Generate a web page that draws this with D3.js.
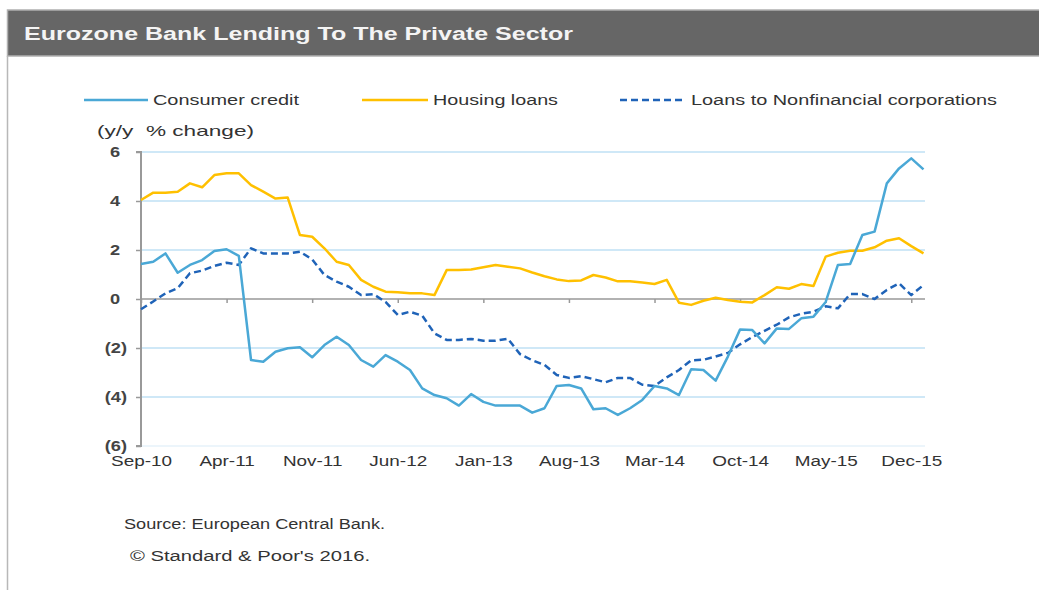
<!DOCTYPE html>
<html><head><meta charset="utf-8">
<script src="https://cdn.jsdelivr.net/npm/d3@7"></script>
<style>
body{margin:0;background:#fff;}
svg{display:block;font-family:Arial, "Liberation Sans", sans-serif;}
</style></head>
<body>
<svg id="c" width="1039" height="590"></svg>
<script>
const months = ["Sep-10","Oct-10","Nov-10","Dec-10","Jan-11","Feb-11","Mar-11","Apr-11","May-11","Jun-11","Jul-11","Aug-11","Sep-11","Oct-11","Nov-11","Dec-11",
"Jan-12","Feb-12","Mar-12","Apr-12","May-12","Jun-12","Jul-12","Aug-12","Sep-12","Oct-12","Nov-12","Dec-12",
"Jan-13","Feb-13","Mar-13","Apr-13","May-13","Jun-13","Jul-13","Aug-13","Sep-13","Oct-13","Nov-13","Dec-13",
"Jan-14","Feb-14","Mar-14","Apr-14","May-14","Jun-14","Jul-14","Aug-14","Sep-14","Oct-14","Nov-14","Dec-14",
"Jan-15","Feb-15","Mar-15","Apr-15","May-15","Jun-15","Jul-15","Aug-15","Sep-15","Oct-15","Nov-15","Dec-15","Jan-16"];
const consumerCredit = [1.43,1.52,1.86,1.07,1.39,1.59,1.96,2.03,1.76,-2.49,-2.56,-2.15,-2.01,-1.97,-2.38,-1.88,-1.54,-1.88,-2.49,-2.76,
-2.29,-2.56,-2.9,-3.65,-3.92,-4.05,-4.35,-3.88,-4.2,-4.35,-4.35,-4.35,-4.64,-4.46,-3.55,-3.51,-3.65,-4.5,-4.46,-4.73,-4.46,-4.12,-3.55,-3.65,
-3.92,-2.87,-2.9,-3.33,-2.35,-1.24,-1.27,-1.81,-1.2,-1.22,-0.79,-0.72,-0.12,1.39,1.43,2.61,2.75,4.72,5.33,5.74,5.29];
const housingLoans = [4.04,4.34,4.34,4.38,4.72,4.56,5.06,5.13,5.13,4.65,4.38,4.1,4.14,2.61,2.54,2.07,1.52,1.39,0.78,0.5,
0.3,0.28,0.23,0.23,0.16,1.18,1.18,1.2,1.3,1.39,1.32,1.25,1.08,0.93,0.8,0.73,0.76,0.98,0.88,0.72,0.72,0.67,0.61,0.78,
-0.15,-0.24,-0.07,0.05,-0.04,-0.11,-0.14,0.16,0.48,0.42,0.61,0.53,1.73,1.89,1.97,1.97,2.11,2.38,2.48,2.16,1.86];
const nfcLoans = [-0.42,-0.1,0.23,0.44,1.05,1.16,1.35,1.48,1.39,2.07,1.86,1.86,1.86,1.93,1.62,0.98,0.71,0.5,0.16,0.2,
-0.12,-0.65,-0.52,-0.68,-1.4,-1.67,-1.67,-1.63,-1.7,-1.7,-1.62,-2.25,-2.5,-2.69,-3.1,-3.22,-3.15,-3.27,-3.4,-3.22,-3.22,-3.5,-3.55,-3.2,
-2.9,-2.5,-2.48,-2.35,-2.2,-1.85,-1.55,-1.3,-1.05,-0.75,-0.6,-0.52,-0.3,-0.38,0.2,0.2,0.0,0.37,0.64,0.16,0.57];
const yTicks = [6,4,2,0,-2,-4,-6];
const xTickLabels = ["Sep-10","Apr-11","Nov-11","Jun-12","Jan-13","Aug-13","Mar-14","Oct-14","May-15","Dec-15"];

const STRETCH = 1.35;
function stretch(sel, f){
  sel.each(function(){
    const w = this.getComputedTextLength();
    d3.select(this).attr("textLength", w*(f||STRETCH)).attr("lengthAdjust","spacingAndGlyphs");
  });
  return sel;
}

const svg = d3.select("#c");
// frame
svg.append("rect").attr("x",7.5).attr("y",10).attr("width",1040).attr("height",46).attr("fill","#666666").attr("stroke","#b0b0b0").attr("stroke-width",1.5);
svg.append("line").attr("x1",7.5).attr("x2",7.5).attr("y1",56).attr("y2",590).attr("stroke","#b8b8b8").attr("stroke-width",1.5);
svg.append("text").attr("x",24).attr("y",40).attr("fill","#f4f4f4").attr("font-size",17.5).attr("font-weight","bold")
  .text("Eurozone Bank Lending To The Private Sector").attr("textLength",549).attr("lengthAdjust","spacingAndGlyphs");

const x = d3.scalePoint().domain(months).range([141, 923.5]);
const y = d3.scaleLinear().domain([-6,6]).range([446,152]);

// gridlines
svg.append("g").selectAll("line").data(yTicks.filter(d=>d!==0)).join("line")
  .attr("x1",141).attr("x2",925).attr("y1",d=>y(d)).attr("y2",d=>y(d))
  .attr("stroke",d=>d===-6?"#e6f2fa":"#bfe0f5").attr("stroke-width",1.5);

// y axis
const yAxis = d3.axisLeft(y).tickValues(yTicks).tickSize(5).tickPadding(9)
  .tickFormat(d=>d<0?"("+(-d)+")":String(d));
const gy = svg.append("g").attr("transform","translate(141,0)").call(yAxis);
gy.select(".domain").attr("stroke","#999").attr("stroke-width",2).attr("d","M-5,152H0V446H-5");
gy.selectAll(".tick line").attr("stroke","#999").attr("stroke-width",1.5);
gy.selectAll(".tick text").attr("fill","#444").attr("font-size",14).attr("font-weight","bold").attr("font-family","Arial, 'Liberation Sans', sans-serif")
  .attr("dx",d=>d>=0?-7:0);
stretch(gy.selectAll(".tick text"),1.3);

// zero axis with ticks
const xAxis0 = d3.axisBottom(x).tickValues(xTickLabels).tickSize(4).tickFormat("");
const g0 = svg.append("g").attr("transform",`translate(0,${y(0)})`).call(xAxis0);
g0.select(".domain").attr("stroke","#999").attr("stroke-width",1.5).attr("d","M141,0H925");
g0.selectAll(".tick line").attr("stroke","#999").attr("stroke-width",1.5);

// x labels at bottom
const xAxisB = d3.axisBottom(x).tickValues(xTickLabels).tickSize(0).tickPadding(10);
const gb = svg.append("g").attr("transform",`translate(0,${y(-6)})`).call(xAxisB);
gb.select(".domain").remove();
gb.selectAll(".tick text").attr("fill","#333").attr("font-size",14).attr("font-family","Arial, 'Liberation Sans', sans-serif");
stretch(gb.selectAll(".tick text"));

// lines
const line = d3.line().x((d,i)=>x(months[i])).y(d=>y(d));
svg.append("path").datum(housingLoans).attr("d",line).attr("fill","none").attr("stroke","#ffc000").attr("stroke-width",2.5).attr("stroke-linejoin","round");
svg.append("path").datum(nfcLoans).attr("d",line).attr("fill","none").attr("stroke","#1f63b8").attr("stroke-width",2.5).attr("stroke-dasharray","7,4").attr("stroke-linejoin","round");
svg.append("path").datum(consumerCredit).attr("d",line).attr("fill","none").attr("stroke","#4aa8d6").attr("stroke-width",2.5).attr("stroke-linejoin","round");

// legend
const legend = [
  {name:"Consumer credit", color:"#4aa8d6", dash:null, x1:84, x2:148, w:146},
  {name:"Housing loans", color:"#ffc000", dash:null, x1:362, x2:428, w:125},
  {name:"Loans to Nonfinancial corporations", color:"#1f63b8", dash:"7,4", x1:620, x2:686, w:306}
];
const lg = svg.append("g").selectAll("g").data(legend).join("g");
lg.append("line").attr("x1",d=>d.x1).attr("x2",d=>d.x2).attr("y1",100).attr("y2",100)
  .attr("stroke",d=>d.color).attr("stroke-width",2.5).attr("stroke-dasharray",d=>d.dash);
lg.append("text").attr("x",d=>d.x2+5).attr("y",105).attr("fill","#333").attr("font-size",14).text(d=>d.name)
  .attr("textLength",d=>d.w).attr("lengthAdjust","spacingAndGlyphs");

svg.append("text").attr("x",97).attr("y",136).attr("fill","#333").attr("font-size",15).attr("xml:space","preserve").text("(y/y  % change)")
  .attr("textLength",157).attr("lengthAdjust","spacingAndGlyphs");

svg.append("text").attr("x",124).attr("y",529).attr("fill","#333").attr("font-size",14).text("Source: European Central Bank.")
  .attr("textLength",261).attr("lengthAdjust","spacingAndGlyphs");
svg.append("text").attr("x",130).attr("y",561).attr("fill","#333").attr("font-size",14).text("© Standard & Poor's 2016.")
  .attr("textLength",240).attr("lengthAdjust","spacingAndGlyphs");
</script>
</body></html>
